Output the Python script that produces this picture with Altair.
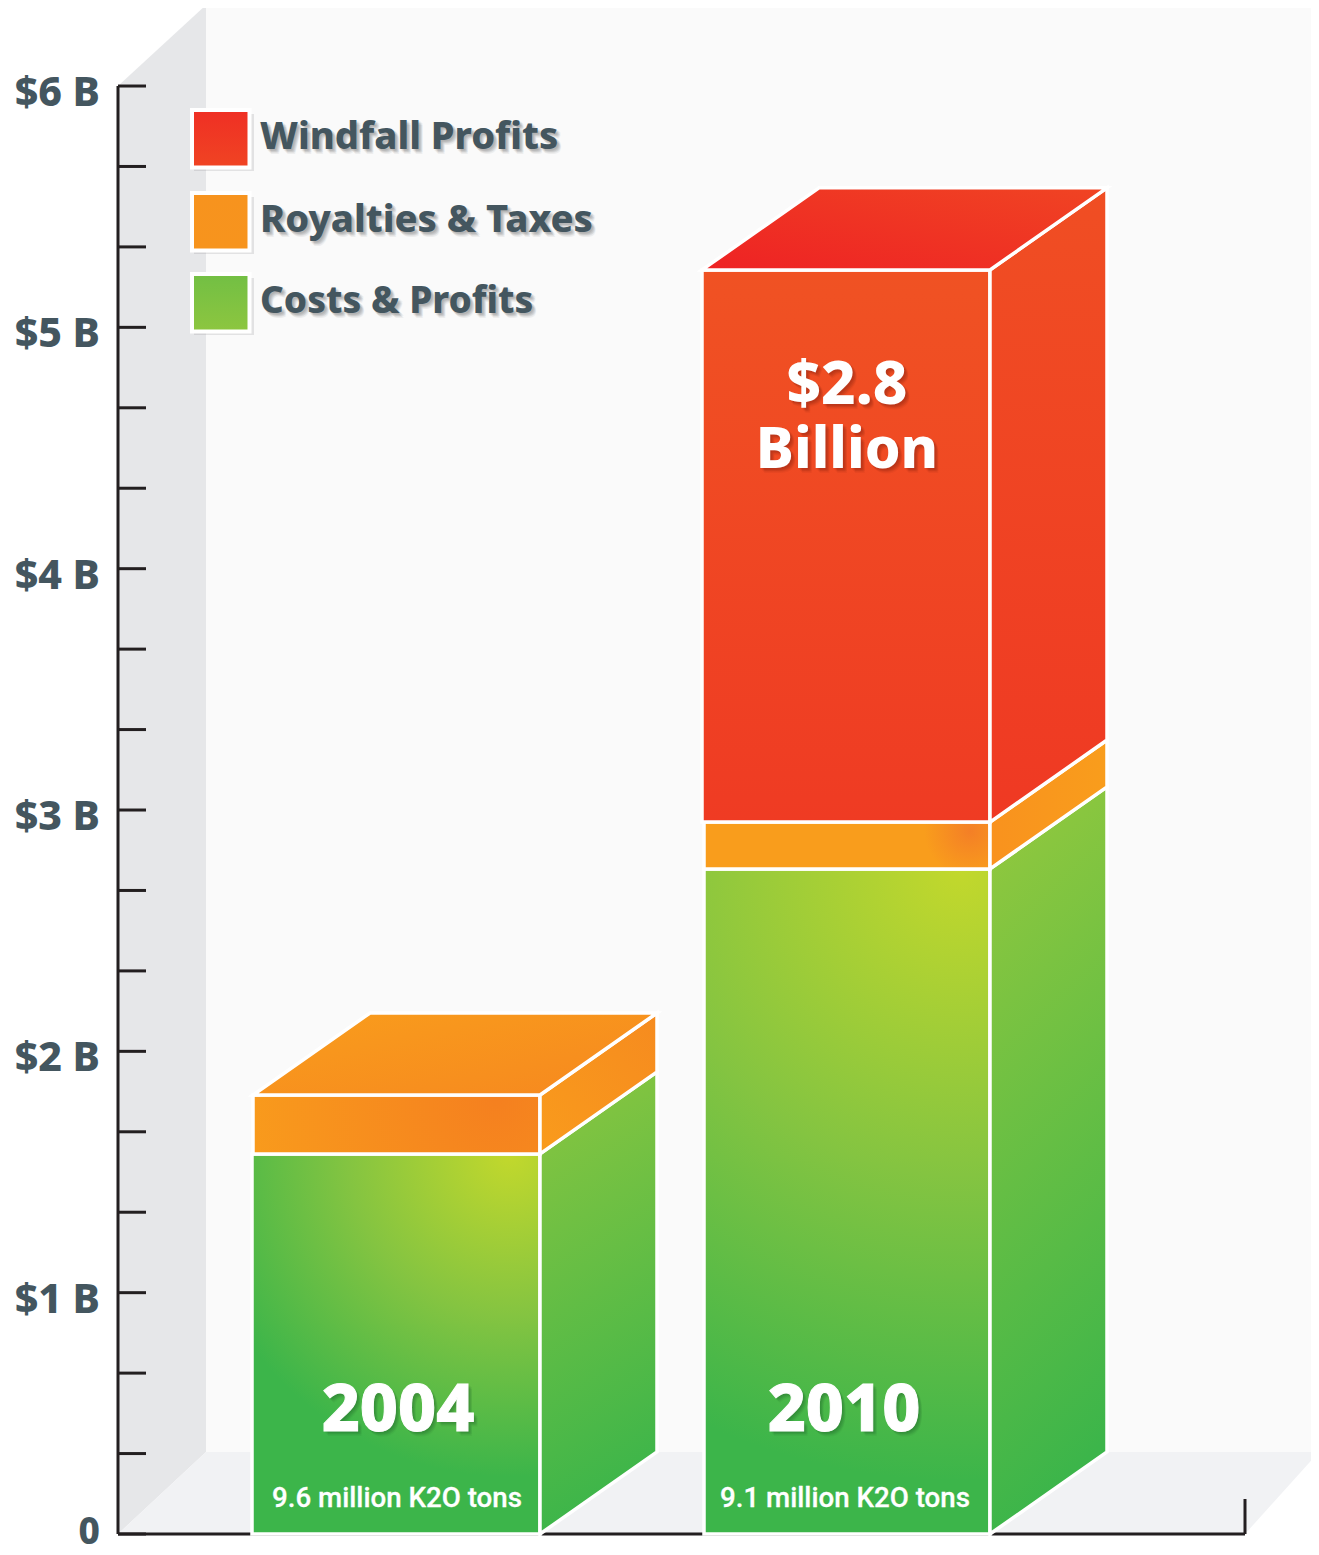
import altair as alt

# ---- values ($ billions) ----
years = ["2004", "2010"]
tonnage = ["9.6 million K2O tons", "9.1 million K2O tons"]
costs = [1.575, 2.756]
royalties = [0.244, 0.194]
windfall = [0.0, 2.288]
bar_left = [252, 704]
bar_right = [540, 990]
year_text_x = [398, 844]
ton_text_x = [397, 845]
depth_x = 117
depth_v = 0.34
tick_values = [i / 3 for i in range(0, 19)]
axis_values = [0, 1, 2, 3, 4, 5, 6]
axis_labels = ["0", "$1 B", "$2 B", "$3 B", "$4 B", "$5 B", "$6 B"]
legend_names = ["Windfall Profits", "Royalties & Taxes", "Costs & Profits"]
legend_top = [110, 193, 274]
legend_text_y = [149, 232, 313]
legend_size = [38, 38, 37]

W, H = 1303, 1539
PX = 241.33
xs = alt.Scale(domain=[8, 1311], nice=False, zero=False)
ys = alt.Scale(domain=[(1534 - 1547) / PX, (1534 - 8) / PX], nice=False, zero=False)
DARK = "#231f20"
SLATE = "#44565f"
LABEL_FONT = "Noto Sans"
EDGE = 3.5


def X(f="x"):
    return alt.X(f + ":Q", scale=xs, axis=None)


def Y(f="y"):
    return alt.Y(f + ":Q", scale=ys, axis=None, stack=None)


def linear(x1, y1, x2, y2, stops):
    return {"gradient": "linear", "x1": x1, "y1": y1, "x2": x2, "y2": y2,
            "stops": [{"offset": o, "color": c} for o, c in stops]}


def radial(cx, cy, r, stops):
    return {"gradient": "radial", "x1": cx, "y1": cy, "r1": 0, "x2": cx, "y2": cy, "r2": r,
            "stops": [{"offset": o, "color": c} for o, c in stops]}


def front(left, right, lo, hi, fill):
    d = alt.Data(values=[{"x": left, "x2": right, "y": lo, "y2": hi}])
    return alt.Chart(d).mark_rect(fill=fill, stroke="white", strokeWidth=EDGE).encode(
        x=X(), x2="x2:Q", y=Y(), y2="y2:Q")


def side(right, lo, hi, fill):
    d = alt.Data(values=[
        {"x": right, "y": lo, "y2": hi},
        {"x": right + depth_x, "y": lo + depth_v, "y2": hi + depth_v}])
    return alt.Chart(d).mark_area(fill=fill, stroke="white", strokeWidth=EDGE, orient="vertical").encode(
        x=X(), y=Y(), y2="y2:Q")


def top(left, right, v, fill):
    d = alt.Data(values=[
        {"y": v, "x": left, "x2": right},
        {"y": v + depth_v, "x": left + depth_x, "x2": right + depth_x}])
    return alt.Chart(d).mark_area(fill=fill, stroke="white", strokeWidth=EDGE, orient="horizontal").encode(
        y=Y(), x=X(), x2="x2:Q")


def label(text, x, y, size, color, font=LABEL_FONT, weight=800, align="center",
          shadow=None, extra=0.0):
    out = []
    d = alt.Data(values=[{"x": x, "y": y, "t": text}])
    if shadow:
        for dx, dy in [(1, 2), (2, 1), (2, 3), (3, 2), (3, 4), (4, 3), (4, 5)]:
            out.append(alt.Chart(d).mark_text(
                font=font, fontSize=size, fontWeight=weight, align=align, baseline="alphabetic",
                color=shadow, opacity=0.07, dx=dx, dy=dy).encode(x=X(), y=Y(), text="t:N"))
    kw = {"stroke": color, "strokeWidth": extra} if extra else {}
    out.append(alt.Chart(d).mark_text(
        font=font, fontSize=size, fontWeight=weight, align=align, baseline="alphabetic",
        color=color, **kw).encode(x=X(), y=Y(), text="t:N"))
    return out


def v(page_y):
    return (1534 - page_y) / PX


G_FRONT = [(0, "#c2d82c"), (0.5, "#84c441"), (1, "#3cb54a")]
layers = []

# walls and floor
wall_d = alt.Data(values=[{"x": 206, "x2": 1319, "y": depth_v, "y2": v(0)}])
layers.append(alt.Chart(wall_d).mark_rect(fill="#fafafa").encode(x=X(), x2="x2:Q", y=Y(), y2="y2:Q"))
lw_d = alt.Data(values=[{"x": 118, "y": 0, "y2": 6}, {"x": 206, "y": depth_v, "y2": v(5)}])
layers.append(alt.Chart(lw_d).mark_area(fill="#e6e7e9", orient="vertical").encode(x=X(), y=Y(), y2="y2:Q"))
fl_d = alt.Data(values=[{"y": 0, "x": 118, "x2": 1245}, {"y": depth_v, "x": 206, "x2": 1319}])
layers.append(alt.Chart(fl_d).mark_area(fill="#f1f2f4", orient="horizontal").encode(y=Y(), x=X(), x2="x2:Q"))

# value axis: spine, ticks every third of a billion, labels on the whole billions
ax_d = alt.Data(values=[{"x": 118, "y": 0, "y2": 6}])
layers.append(alt.Chart(ax_d).mark_rule(color=DARK, strokeWidth=3).encode(x=X(), y=Y(), y2="y2:Q"))
tick_d = alt.Data(values=[{"x": 118, "x2": 146, "y": t} for t in tick_values])
layers.append(alt.Chart(tick_d).mark_rule(color=DARK, strokeWidth=3).encode(x=X(), x2="x2:Q", y=Y()))
lab_d = alt.Data(values=[{"x": 100, "y": a, "t": b} for a, b in zip(axis_values, axis_labels) if a > 0])
layers.append(alt.Chart(lab_d).mark_text(
    font=LABEL_FONT, fontSize=41, fontWeight=800, align="right", baseline="middle", color=SLATE, dy=8
).encode(x=X(), y=Y(), text="t:N"))
zero_d = alt.Data(values=[{"x": 100, "y": axis_values[0], "t": axis_labels[0]}])
layers.append(alt.Chart(zero_d).mark_text(
    font=LABEL_FONT, fontSize=37, fontWeight=800, align="right", baseline="middle", color=SLATE, dy=-1
).encode(x=X(), y=Y(), text="t:N"))
base_d = alt.Data(values=[{"x": 118, "x2": 1245, "y": 0}])
layers.append(alt.Chart(base_d).mark_rule(color=DARK, strokeWidth=3).encode(x=X(), x2="x2:Q", y=Y()))
end_d = alt.Data(values=[{"x": 1245, "y": 0, "y2": 0.145}])
layers.append(alt.Chart(end_d).mark_rule(color=DARK, strokeWidth=3).encode(x=X(), y=Y(), y2="y2:Q"))

# 2004 bar
l, r = bar_left[0], bar_right[0]
c, ro = costs[0], costs[0] + royalties[0]
layers += [
    front(l, r, 0, c, radial(0.8, 0.0, 0.85, G_FRONT)),
    side(r, 0, c, linear(0, 0, 0.15, 1, [(0, "#8cc63f"), (1, "#3cb54a")])),
    front(l + 1, r, c, ro, radial(0.85, 0.41, 0.95, [(0, "#f5801f"), (1, "#f99d1c")])),
    side(r, c, ro, linear(0, 1, 1, 0, [(0, "#f99b1c"), (1, "#f68b1f")])),
    top(l + 1, r, ro, linear(0, 0, 1, 1, [(0, "#f99d1c"), (1, "#f6881f")])),
]

# 2010 bar
l, r = bar_left[1], bar_right[1]
c, ro, wi = costs[1], costs[1] + royalties[1], costs[1] + royalties[1] + windfall[1]
layers += [
    front(l, r, 0, c, radial(0.67, 0.0, 0.92, G_FRONT)),
    side(r, 0, c, linear(0, 0, 0.15, 1, [(0, "#96c93d"), (1, "#3cb54a")])),
    front(l, r, c, ro, radial(0.93, 0.45, 0.16, [(0, "#f47f26"), (1, "#f99d1c")])),
    side(r, c, ro, linear(0, 0, 1, 0, [(0, "#f9921e"), (1, "#f99d1c")])),
    front(l - 2, r, ro, wi, linear(0, 0, 0, 1, [(0, "#f05223"), (1, "#ef3b23")])),
    side(r, ro, wi, linear(0, 0, 0, 1, [(0, "#f04e23"), (1, "#ef3923")])),
    top(l - 2, r, wi, linear(0, 1, 1, 0, [(0, "#ee2224"), (1, "#f04423")])),
]

# texts on the bars
for i in range(2):
    layers += label(years[i], year_text_x[i], v(1431), 66, "white", shadow="#1f5f2a", extra=1)
    layers += label(tonnage[i], ton_text_x[i], v(1507), 27.7, "white",
                    font="Roboto", weight=500, extra=0.3)
layers += label("$2.8", 847, v(404), 60, "white", shadow="#7a1f10")
layers += label("Billion", 847, v(468), 57, "white", shadow="#7a1f10")

# legend
legend_fill = [
    linear(0, 0, 0, 1, [(0, "#ef2f24"), (1, "#f04423")]),
    linear(0, 0, 0, 1, [(0, "#f7931e"), (1, "#f7941d")]),
    linear(0, 0, 0, 1, [(0, "#72bf44"), (1, "#8dc63f")]),
]
for name, t, ty, f, fs in zip(legend_names, legend_top, legend_text_y, legend_fill, legend_size):
    sh = alt.Data(values=[{"x": 194, "x2": 254, "y": v(t + 4), "y2": v(t + 61)}])
    layers.append(alt.Chart(sh).mark_rect(fill="#808285", opacity=0.2).encode(
        x=X(), x2="x2:Q", y=Y(), y2="y2:Q"))
    d = alt.Data(values=[{"x": 192, "x2": 249.5, "y": v(t), "y2": v(t + 57.5)}])
    layers.append(alt.Chart(d).mark_rect(fill=f, stroke="white", strokeWidth=4).encode(
        x=X(), x2="x2:Q", y=Y(), y2="y2:Q"))
    layers += label(name, 260, v(ty), fs, SLATE, align="left", shadow="#555555")

chart = alt.layer(*layers).properties(
    width=W, height=H, padding=0, background="white",
    autosize=alt.AutoSizeParams(type="none"),
).configure_view(strokeWidth=0)

chart.save("out.html", embed_options={"renderer": "svg", "actions": False})
